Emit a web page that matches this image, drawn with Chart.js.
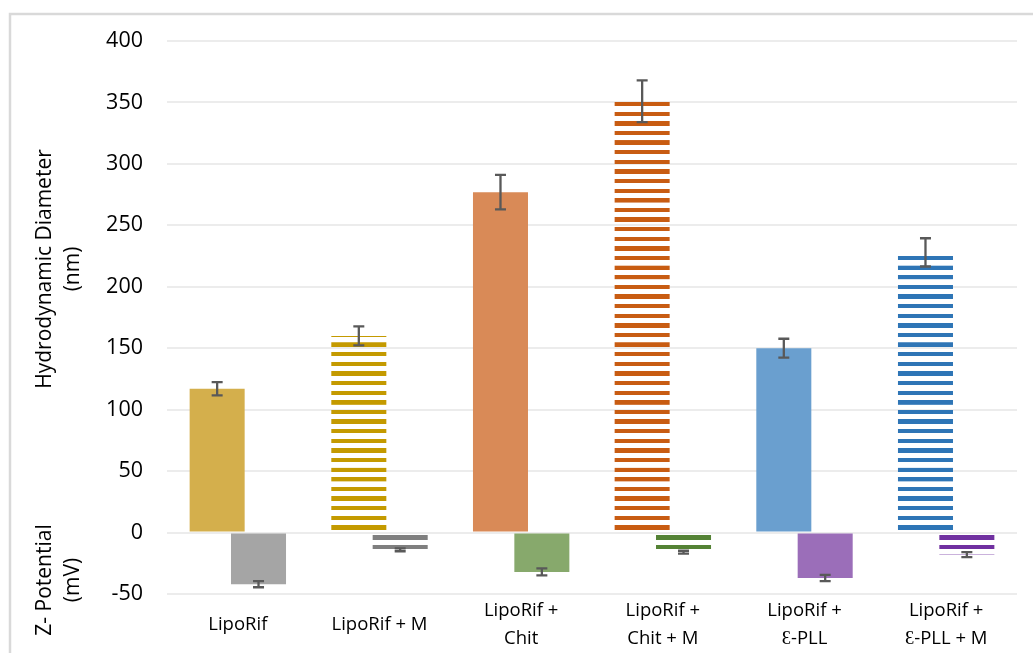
<!DOCTYPE html>
<html>
<head>
<meta charset="utf-8">
<script src="https://cdn.jsdelivr.net/npm/chart.js@4/dist/chart.umd.min.js"></script>
<style>
  html, body { margin: 0; padding: 0; background: #ffffff; }
  canvas { display: block; }
</style>
</head>
<body>
<canvas id="chart" width="1033" height="653"></canvas>
<script>
// Formulations (multi-line labels as arrays)
const categories = [
  ['LipoRif'],
  ['LipoRif + M'],
  ['LipoRif +', 'Chit'],
  ['LipoRif +', 'Chit + M'],
  ['LipoRif +', 'Ɛ-PLL'],
  ['LipoRif +', 'Ɛ-PLL + M']
];

// Hydrodynamic diameter (nm) and its standard deviation
const diameter = [117, 160, 277, 351, 150, 228];
const diameterErr = [5.4, 7.7, 14, 17, 7.7, 11.5];

// Zeta potential (mV) and its standard deviation
const zeta = [-42, -14, -32, -16, -37, -18];
const zetaErr = [2.5, 1.2, 2.8, 1.2, 2.6, 2.0];

// Categories drawn with a striped fill (the "+ M" formulations)
const striped = [false, true, false, true, false, true];

const diameterSolid = ['#D4AF4C', '#C49A00', '#D98A57', '#C85C12', '#6A9FCF', '#2E75B6'];
const zetaSolid = ['#A5A5A5', '#7F7F7F', '#87A96C', '#548235', '#9B6EB9', '#7030A0'];

const yTicks = { min: -50, max: 400, step: 50 };

const STRIPE_PERIOD = 9.62;

function stripePattern(ctx, color, topEdge) {
  const tile = document.createElement('canvas');
  tile.width = 4; tile.height = 100;
  const t = tile.getContext('2d');
  t.fillStyle = color;
  t.fillRect(0, 0, 4, 45);
  const p = ctx.createPattern(tile, 'repeat');
  const s = STRIPE_PERIOD / 100;
  p.setTransform(new DOMMatrix([1, 0, 0, s, 0, topEdge]));
  return p;
}

function barFill(colors, positive) {
  return (c) => {
    const i = c.dataIndex;
    if (i === undefined) return colors[0];
    if (!striped[i]) return colors[i];
    const y = c.chart.scales.y;
    if (!y) return colors[i];
    const zeroY = y.getPixelForValue(0);
    const top = positive ? zeroY - 7.3 : zeroY + 2.7;
    return stripePattern(c.chart.ctx, colors[i], top);
  };
}

// Frame around the figure
const framePlugin = {
  id: 'frame',
  beforeDraw(chart) {
    const ctx = chart.ctx;
    ctx.save();
    ctx.fillStyle = '#ffffff';
    ctx.fillRect(0, 0, chart.width, chart.height);
    ctx.strokeStyle = '#D9D9D9';
    ctx.lineWidth = 2.5;
    ctx.strokeRect(10, 14, chart.width + 20, chart.height + 20);
    ctx.restore();
  }
};

// Error bars (± SD) for both series
const errorBarPlugin = {
  id: 'errorBars',
  afterDatasetsDraw(chart) {
    const ctx = chart.ctx;
    const y = chart.scales.y;
    const errs = [diameterErr, zetaErr];
    ctx.save();
    ctx.strokeStyle = '#595959';
    ctx.lineWidth = 2.3;
    chart.data.datasets.forEach((ds, di) => {
      const meta = chart.getDatasetMeta(di);
      meta.data.forEach((bar, i) => {
        const v = ds.data[i];
        const e = errs[di][i];
        const x = bar.x;
        const y1 = y.getPixelForValue(v + e);
        const y2 = y.getPixelForValue(v - e);
        const hw = 5.5;
        ctx.beginPath();
        ctx.moveTo(x, y1); ctx.lineTo(x, y2);
        ctx.moveTo(x - hw, y1); ctx.lineTo(x + hw, y1);
        ctx.moveTo(x - hw, y2); ctx.lineTo(x + hw, y2);
        ctx.stroke();
      });
    });
    ctx.restore();
  }
};

// Two stacked y-axis titles, one per measured quantity
const axisTitlePlugin = {
  id: 'axisTitles',
  afterDraw(chart) {
    const ctx = chart.ctx;
    ctx.save();
    ctx.fillStyle = '#000000';
    ctx.font = '21px "Open Sans"';
    ctx.textAlign = 'center';
    ctx.textBaseline = 'middle';
    const put = (lines, cy) => {
      lines.forEach((t, k) => {
        ctx.save();
        ctx.translate(45 + k * 28, cy);
        ctx.rotate(-Math.PI / 2);
        ctx.fillText(t, 0, 0);
        ctx.restore();
      });
    };
    put(['Hydrodynamic Diameter', '(nm)'], 269);
    put(['Z- Potential', '(mV)'], 580);
    ctx.restore();
  }
};

new Chart(document.getElementById('chart'), {
  type: 'bar',
  data: {
    labels: categories,
    datasets: [
      {
        label: 'Hydrodynamic Diameter (nm)',
        data: diameter,
        backgroundColor: barFill(diameterSolid, true),
        borderWidth: 0,
        categoryPercentage: 0.584,
        barPercentage: 1.33
      },
      {
        label: 'Z- Potential (mV)',
        data: zeta,
        backgroundColor: barFill(zetaSolid, false),
        borderWidth: 0,
        categoryPercentage: 0.584,
        barPercentage: 1.33
      }
    ]
  },
  options: {
    responsive: false,
    animation: false,
    devicePixelRatio: 1,
    layout: { padding: { left: 0, right: 16, top: 41, bottom: 0 } },
    plugins: {
      legend: { display: false },
      tooltip: { enabled: false }
    },
    scales: {
      x: {
        grid: { display: false },
        border: { display: false },
        ticks: {
          color: '#000000',
          font: { family: '"Open Sans"', size: 18.5, lineHeight: 1.48 },
          padding: 9,
          maxRotation: 0,
          autoSkip: false,
          crossAlign: 'center'
        },
        afterFit(s) { s.height = 59; }
      },
      y: {
        min: yTicks.min,
        max: yTicks.max,
        ticks: {
          stepSize: yTicks.step,
          color: '#000000',
          font: { family: '"Open Sans"', size: 21.5 },
          padding: 24
        },
        grid: { color: '#ECECEC', lineWidth: 2, drawTicks: false },
        border: { display: false },
        afterFit(s) { s.width = 167; }
      }
    }
  },
  plugins: [framePlugin, errorBarPlugin, axisTitlePlugin]
});
</script>
</body>
</html>
